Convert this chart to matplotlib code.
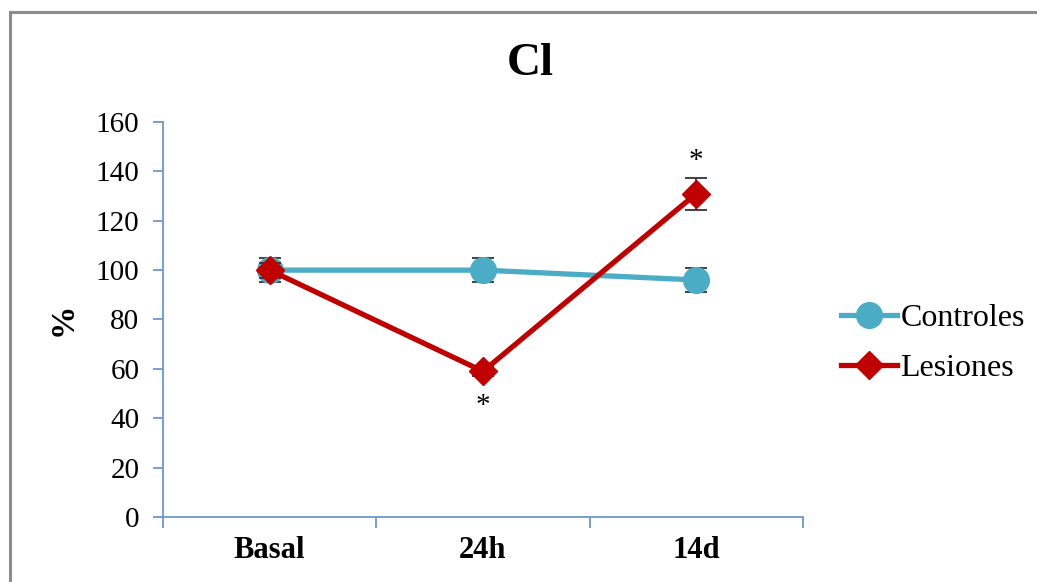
import matplotlib.pyplot as plt
from matplotlib.patches import Rectangle
from matplotlib.lines import Line2D

plt.rcParams['font.family'] = ['Liberation Serif', 'DejaVu Serif']

categories = ['Basal', '24h', '14d']
controles = [100, 100, 96]
controles_err = [5, 5, 5]
lesiones = [100, 59, 131]
lesiones_err = [3, 2, 6.5]
# significance marks: (category index, y position)
stars = [(1, 45), (2, 144)]

teal = '#4BACC6'
red = '#C00000'
axis_col = '#7196CC'

fig = plt.figure(figsize=(10.37, 5.82), dpi=100)
ax = fig.add_axes([0.1572, 0.1117, 0.6171, 0.6787])

# grey outer frame
fig.patches.append(Rectangle((10 / 1037, -0.1), 1.2, 1 - 12 / 582 + 0.1,
                             transform=fig.transFigure, fill=False,
                             edgecolor='#8C8C8C', linewidth=2.2))

x = list(range(len(categories)))

ax.errorbar(x, controles, yerr=controles_err, color=teal, linewidth=3.8,
            marker='o', markersize=18.5, ecolor='#333333', elinewidth=1.3,
            capsize=8, capthick=1.3, zorder=3)
ax.errorbar(x, lesiones, yerr=lesiones_err, color=red, linewidth=3.8,
            marker='D', markersize=14, ecolor='#333333', elinewidth=1.3,
            capsize=8, capthick=1.3, zorder=4)

for i, yv in stars:
    ax.text(i, yv, '*', ha='center', va='center', fontsize=21, color='black')

ax.set_xlim(-0.5, 2.5)
ax.set_ylim(0, 160)
ax.set_yticks(range(0, 161, 20))
ax.set_xticks([-0.5, 0.5, 1.5, 2.5])
ax.set_xticklabels([])
ax.set_xticks(x, minor=True)
ax.set_xticklabels(categories, minor=True, fontsize=22, fontweight='bold')
ax.tick_params(axis='x', which='minor', length=0, pad=14)
ax.tick_params(axis='x', which='major', length=8, width=1.3, color=axis_col, direction='out')
ax.tick_params(axis='y', length=7, width=1.3, color=axis_col, labelsize=21, pad=10)

for side in ['top', 'right']:
    ax.spines[side].set_visible(False)
for side in ['left', 'bottom']:
    ax.spines[side].set_color(axis_col)
    ax.spines[side].set_linewidth(1.3)

ax.set_ylabel('%', fontsize=24, fontweight='bold', labelpad=12)
fig.text(530 / 1037, 1 - 64 / 582, 'Cl', ha='center', va='center',
         fontsize=34, fontweight='bold')

handles = [
    Line2D([], [], color=teal, linewidth=3.8, marker='o', markersize=18.5),
    Line2D([], [], color=red, linewidth=3.8, marker='D', markersize=14),
]
ax.legend(handles, ['Controles', 'Lesiones'], loc='center left',
          bbox_to_anchor=(1.04, 0.44), frameon=False, fontsize=23,
          handlelength=1.75, handletextpad=0.1, labelspacing=0.65,
          borderaxespad=0)

fig.savefig('out.png', dpi=100)
